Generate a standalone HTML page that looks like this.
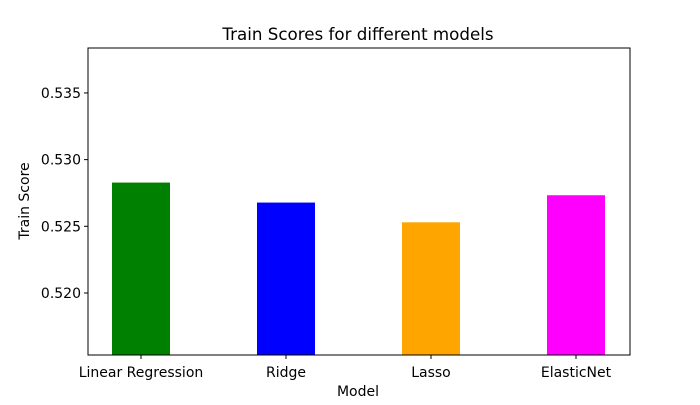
<!DOCTYPE html>
<html><head><meta charset="utf-8"><style>
body{margin:0;background:#fff;}
svg text{font-family:"DejaVu Sans","Liberation Sans",sans-serif;fill:#000;}
</style></head><body>
<svg id="chart" width="700" height="400">
<text x="358" y="40" font-size="16.7" text-anchor="middle">Train Scores for different models</text>
<g id="plot"></g>
<rect x="88" y="48" width="542" height="307" fill="none" stroke="#000" stroke-width="1"/>
<text x="358" y="396" font-size="14" text-anchor="middle">Model</text>
<text transform="translate(29,201) rotate(-90)" font-size="14" text-anchor="middle">Train Score</text>
</svg>
<script>
const categories=["Linear Regression","Ridge","Lasso","ElasticNet"];
const scores=[0.52828,0.52678,0.52530,0.52733];
const colors=["#008000","#0000ff","#ffa500","#ff00ff"];
const yTicks=[0.520,0.525,0.530,0.535];
const yTickLabels=["0.520","0.525","0.530","0.535"];
const NS="http://www.w3.org/2000/svg";
const L=88,R=630,T=48,B=355,yMin=0.51535,yMax=0.53837;
const y=v=>B-(v-yMin)/(yMax-yMin)*(B-T);
const step=145,first=141;
const x=i=>first+i*step;
const bw=58;
const g=document.getElementById('plot');
function mk(t,a){const e=document.createElementNS(NS,t);for(const k in a)e.setAttribute(k,a[k]);return e;}
categories.forEach((c,i)=>{
 const r=mk('rect',{x:x(i)-bw/2,y:y(scores[i]),width:bw,height:B-y(scores[i]),fill:colors[i]});
 
 
 g.appendChild(r);
 const tk=mk('line',{x1:x(i),x2:x(i),y1:B,y2:B+4,stroke:'#000'});
 
 
 g.appendChild(tk);
 const t=mk('text',{x:x(i),y:B+22,'font-size':14,'text-anchor':'middle'});
 t.textContent=c;
 
 
 g.appendChild(t);
});
yTicks.forEach((v,i)=>{
 const tk=mk('line',{x1:L-4,x2:L,y1:y(v),y2:y(v),stroke:'#000'});
 
 
 g.appendChild(tk);
 const t=mk('text',{x:L-7,y:y(v)+5,'font-size':14,'text-anchor':'end'});
 t.textContent=yTickLabels[i];
 
 
 g.appendChild(t);
});
</script>
</body></html>
